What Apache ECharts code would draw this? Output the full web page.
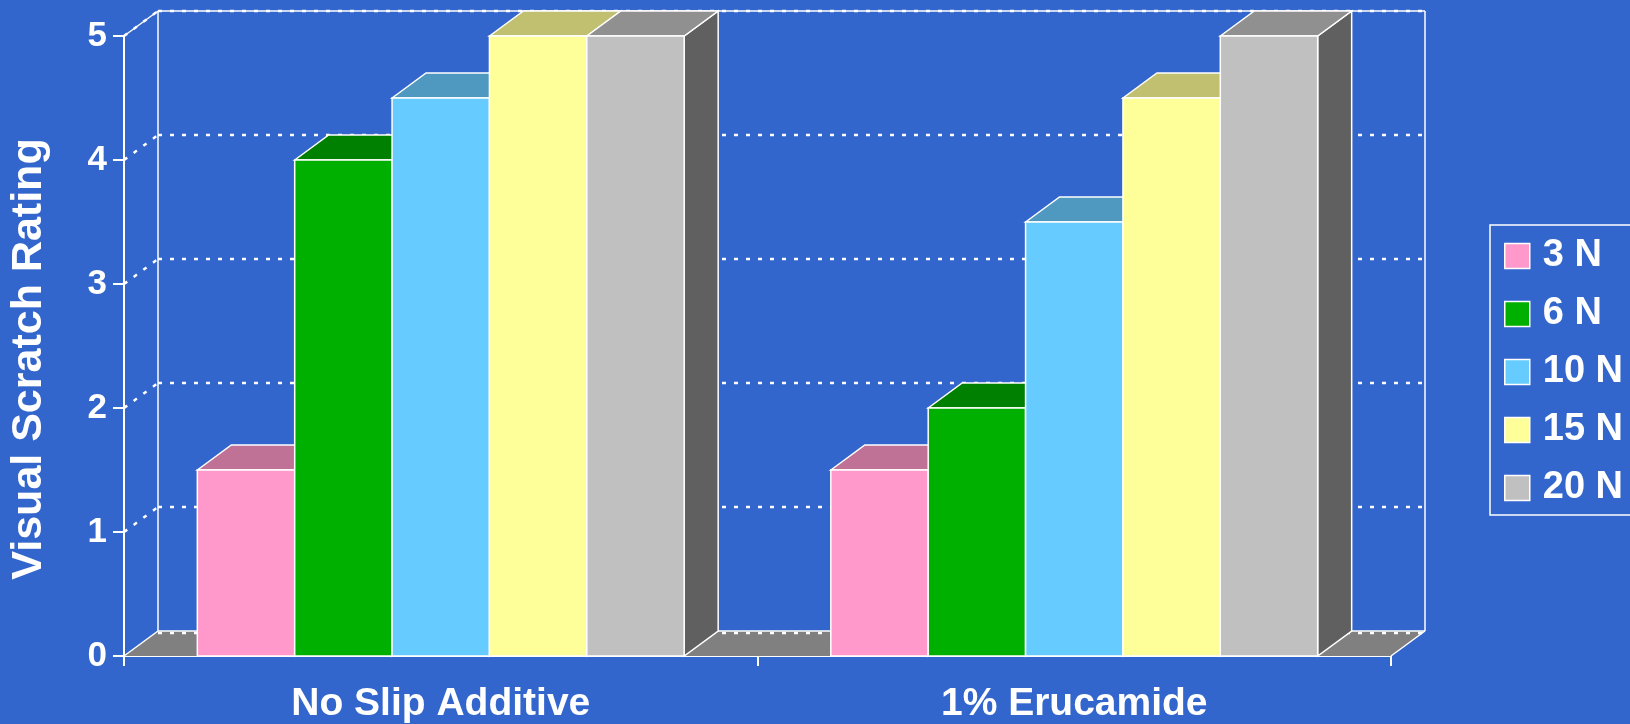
<!DOCTYPE html>
<html>
<head>
<meta charset="utf-8">
<title>Visual Scratch Rating</title>
<script src="https://cdn.jsdelivr.net/npm/echarts@6.0.0/dist/echarts.min.js"></script>
<style>
  html, body { margin: 0; padding: 0; background: #3366CC; }
  #chart { width: 1630px; height: 724px; }
</style>
</head>
<body>
<div id="chart"></div>
<script>
// data
var categories = ['No Slip Additive', '1% Erucamide'];
var forceNames = ['3 N', '6 N', '10 N', '15 N', '20 N'];
var rating3N = [1.5, 1.5];
var rating6N = [4, 2];
var rating10N = [4.5, 3.5];
var rating15N = [5, 4.5];
var rating20N = [5, 5];
var yTicks = [0, 1, 2, 3, 4, 5];

var ratings = [rating3N, rating6N, rating10N, rating15N, rating20N];

// styles
var frontColors = ['#FF99CC', '#00B000', '#66CCFF', '#FFFF99', '#C0C0C0'];
var topColors = ['#C07296', '#008000', '#4F99C0', '#C0C070', '#909090'];
var sideColors = ['#A05078', '#006000', '#3A7AA0', '#A0A050', '#606060'];
var DX = 34, DY = 25;          // depth offset of the 3d view
var BAR_RATIO = 0.7685;        // part of a category taken by the bars
var FONT = 'Liberation Sans, Arial, sans-serif';

var line = function (x1, y1, x2, y2, dashed) {
  return {
    type: 'line',
    shape: { x1: x1, y1: y1, x2: x2, y2: y2 },
    style: dashed
      ? { stroke: '#fff', lineWidth: 2.5, lineDash: [4, 8] }
      : { stroke: '#fff', lineWidth: 1.5 }
  };
};

// floor, walls and grid lines
function renderWalls(params, api) {
  var cs = params.coordSys;
  var x0 = cs.x, x1 = cs.x + cs.width;
  var v = api.value(1);
  var y = api.coord([0, v])[1];
  var children = [];
  if (v === yTicks[0]) {
    children.push({
      type: 'polygon',
      shape: { points: [[x0, y], [x0 + DX, y - DY], [x1 + DX, y - DY], [x1, y]] },
      style: { fill: '#808080' }
    });
    children.push(line(x0, y, x0 + DX, y - DY));
    children.push(line(x1, y, x1 + DX, y - DY));
    children.push(line(x0 + DX, y - DY, x1 + DX, y - DY));
    children.push(line(x0 + DX, y - DY + 2, x1 + DX, y - DY + 2, true));
  } else {
    children.push(line(x0, y, x0 + DX, y - DY, true));
    children.push(line(x0 + DX, y - DY, x1 + DX, y - DY, true));
  }
  if (v === yTicks[yTicks.length - 1]) {
    var yb = api.coord([0, yTicks[0]])[1];
    children.push(line(x0, y, x0 + DX, y - DY));
    children.push(line(x0 + DX, y - DY, x1 + DX, y - DY));
    children.push(line(x0 + DX, y - DY, x0 + DX, yb - DY));
    children.push(line(x1 + DX, y - DY, x1 + DX, yb - DY));
  }
  return { type: 'group', children: children };
}

// 3d bar: side, top and front faces
function makeBarRenderer(idx) {
  return function (params, api) {
    var cat = api.value(0), v = api.value(1);
    var p0 = api.coord([cat, 0]);
    var p1 = api.coord([cat, v]);
    var band = api.size([1, 0])[0];
    var bw = band * BAR_RATIO / forceNames.length;
    var xl = p0[0] - band * BAR_RATIO / 2 + idx * bw;
    var xr = xl + bw;
    var yb = p0[1], yt = p1[1];
    var edge = { stroke: '#fff', lineWidth: 1.5, lineJoin: 'miter' };
    return {
      type: 'group',
      children: [
        {
          type: 'polygon',
          shape: { points: [[xr, yt], [xr + DX, yt - DY], [xr + DX, yb - DY], [xr, yb]] },
          style: Object.assign({ fill: sideColors[idx] }, edge)
        },
        {
          type: 'polygon',
          shape: { points: [[xl, yt], [xl + DX, yt - DY], [xr + DX, yt - DY], [xr, yt]] },
          style: Object.assign({ fill: topColors[idx] }, edge)
        },
        {
          type: 'rect',
          shape: { x: xl, y: yt, width: bw, height: yb - yt },
          style: Object.assign({ fill: frontColors[idx] }, edge)
        }
      ]
    };
  };
}

var series = [{
  name: 'walls',
  type: 'custom',
  z: 1,
  silent: true,
  renderItem: renderWalls,
  encode: { x: 0, y: 1 },
  data: yTicks.map(function (t) { return [0, t]; })
}];

forceNames.forEach(function (name, i) {
  series.push({
    name: name,
    type: 'custom',
    z: 2,
    renderItem: makeBarRenderer(i),
    itemStyle: { color: frontColors[i] },
    encode: { x: 0, y: 1 },
    data: ratings[i].map(function (r, j) { return [j, r]; })
  });
});

var chart = echarts.init(document.getElementById('chart'));
var option = {
  backgroundColor: '#3366CC',
  animation: false,
  grid: { left: 121, right: 239, top: 36, bottom: 66 },
  legend: {
    data: forceNames,
    orient: 'vertical',
    left: 1490,
    top: 225,
    icon: 'rect',
    itemWidth: 25,
    itemHeight: 25,
    itemGap: 20,
    padding: [12, 40, 8, 14],
    borderColor: '#fff',
    borderWidth: 1.5,
    itemStyle: { borderColor: '#fff', borderWidth: 1.5 },
    textStyle: { color: '#fff', fontSize: 38, fontWeight: 'bold', fontFamily: FONT, padding: [0, 0, 0, 8] }
  },
  xAxis: {
    type: 'category',
    data: categories,
    axisLine: { lineStyle: { color: '#fff', width: 2 } },
    axisTick: { show: true, length: 10, lineStyle: { color: '#fff', width: 2 } },
    axisLabel: { color: '#fff', fontSize: 39, fontWeight: 'bold', fontFamily: FONT, margin: 29 },
    splitLine: { show: false }
  },
  yAxis: {
    type: 'value',
    min: 0,
    max: 5,
    interval: 1,
    name: 'Visual Scratch Rating',
    nameLocation: 'middle',
    nameRotate: 90,
    nameGap: 73,
    nameTextStyle: { color: '#fff', fontSize: 43, fontWeight: 'bold', fontFamily: FONT, padding: [0, 26, 0, 0] },
    axisLine: { show: true, lineStyle: { color: '#fff', width: 2 } },
    axisTick: { show: true, length: 11, lineStyle: { color: '#fff', width: 2 } },
    axisLabel: { color: '#fff', fontSize: 35, fontWeight: 'bold', fontFamily: FONT, margin: 17 },
    splitLine: { show: false }
  },
  series: series
};
chart.setOption(option);
</script>
</body>
</html>
